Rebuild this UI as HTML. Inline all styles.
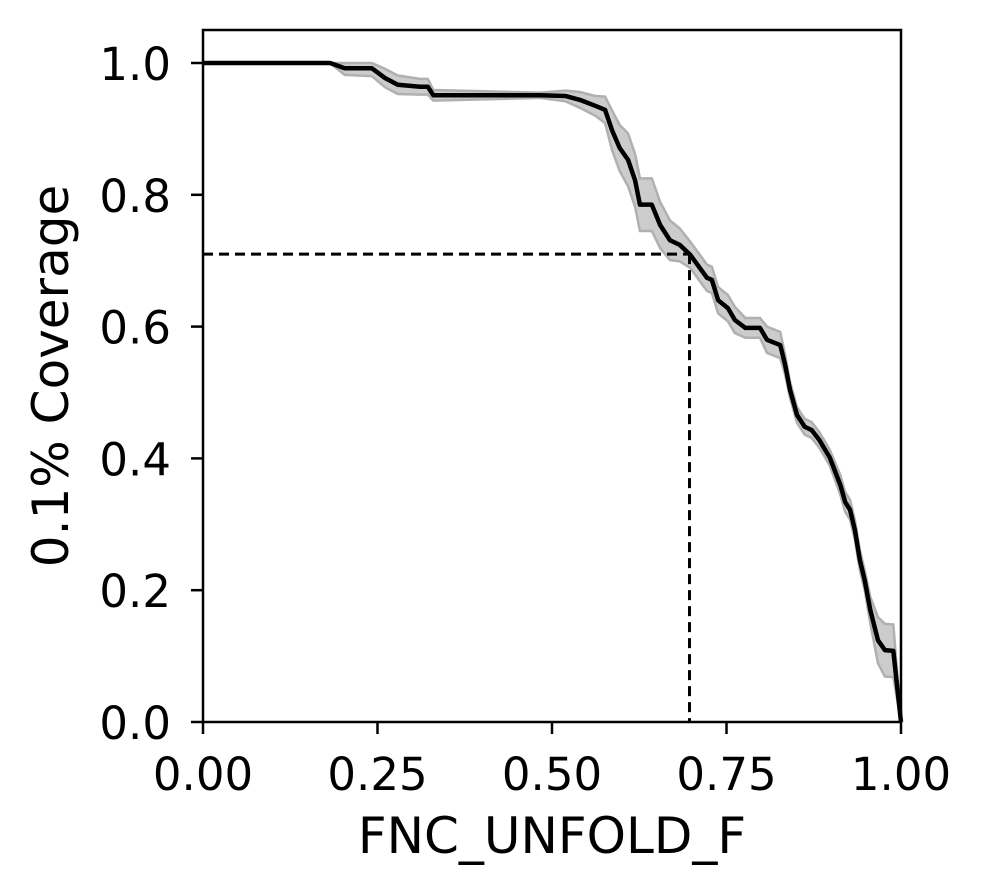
<!DOCTYPE html>
<html><head><meta charset="utf-8"><style>
html,body{margin:0;padding:0;background:#fff;}
svg{display:block;font-family:"DejaVu Sans","Liberation Sans",sans-serif;}
</style></head><body>
<svg id="chart" width="986" height="895"></svg>
<script>
const xs=[0,0.182,0.203,0.242,0.261,0.279,0.311,0.322,0.330,0.483,0.519,0.540,0.562,0.576,0.586,0.597,0.609,0.619,0.626,0.643,0.655,0.669,0.683,0.698,0.709,0.722,0.729,0.738,0.752,0.762,0.777,0.798,0.808,0.827,0.834,0.841,0.851,0.862,0.872,0.883,0.898,0.913,0.920,0.927,0.934,0.941,0.948,0.956,0.967,0.977,0.989,1.0];
const ys=[1.0,1.0,0.992,0.992,0.977,0.967,0.964,0.964,0.951,0.951,0.950,0.944,0.935,0.929,0.898,0.871,0.853,0.822,0.785,0.785,0.754,0.731,0.724,0.709,0.693,0.674,0.671,0.640,0.628,0.610,0.598,0.598,0.580,0.572,0.542,0.504,0.466,0.448,0.443,0.428,0.401,0.360,0.334,0.322,0.291,0.246,0.215,0.170,0.124,0.109,0.108,0.0];
const halfw=[0,0,0.01,0.012,0.014,0.014,0.012,0.012,0.008,0.004,0.008,0.012,0.015,0.02,0.03,0.035,0.04,0.04,0.04,0.04,0.035,0.03,0.025,0.02,0.02,0.02,0.02,0.02,0.02,0.02,0.015,0.015,0.02,0.02,0.015,0.012,0.012,0.012,0.012,0.012,0.012,0.015,0.015,0.015,0.015,0.015,0.015,0.02,0.035,0.04,0.04,0];
const xTicks=[0,0.25,0.5,0.75,1.0];
const xTickLabels=["0.00","0.25","0.50","0.75","1.00"];
const yTicks=[0,0.2,0.4,0.6,0.8,1.0];
const yTickLabels=["0.0","0.2","0.4","0.6","0.8","1.0"];
const threshX=[0.697];
const threshY=[0.71];

const L=203,R=901,T=30,B=722,Y1=63;
const sx=v=>L+v*(R-L);
const sy=v=>B-v*(B-Y1);
const svg=document.getElementById('chart');
const NS='http://www.w3.org/2000/svg';
function mk(tag,attrs){const e=document.createElementNS(NS,tag);for(const k in attrs)e.setAttribute(k,attrs[k]);svg.appendChild(e);return e;}

let up=xs.map((x,i)=>sx(x)+','+sy(Math.min(1,ys[i]+halfw[i])));
let lo=xs.map((x,i)=>sx(x)+','+sy(Math.max(0,ys[i]-halfw[i]))).reverse();
const band=mk('polygon',{points:up.concat(lo).join(' '),fill:'#cccccc',stroke:'#b0b0b0','stroke-width':2.5});



const hl=mk('line',{x1:sx(0),y1:sy(threshY[0]),x2:sx(threshX[0]),y2:sy(threshY[0]),stroke:'#000','stroke-width':3,'stroke-dasharray':'10,6'});


const vl=mk('line',{x1:sx(threshX[0]),y1:sy(threshY[0]),x2:sx(threshX[0]),y2:B,stroke:'#000','stroke-width':3,'stroke-dasharray':'10,6'});



const line=mk('polyline',{points:xs.map((x,i)=>sx(x)+','+sy(ys[i])).join(' '),fill:'none',stroke:'#000','stroke-width':4.5,'stroke-linejoin':'round'});



const frame=mk('rect',{x:L,y:T,width:R-L,height:B-T,fill:'none',stroke:'#000','stroke-width':2.5});



xTicks.forEach((v,i)=>{
  const t=mk('line',{x1:sx(v),y1:B,x2:sx(v),y2:B+12,stroke:'#000','stroke-width':2.5});
  
  
  const l=mk('text',{x:sx(v),y:790,'font-size':45,'text-anchor':'middle',fill:'#000'});
  l.textContent=xTickLabels[i];
  
  
});
yTicks.forEach((v,i)=>{
  const t=mk('line',{x1:L-12,y1:sy(v),x2:L,y2:sy(v),stroke:'#000','stroke-width':2.5});
  
  
  const l=mk('text',{x:171,y:sy(v)+17,'font-size':45,'text-anchor':'end',fill:'#000'});
  l.textContent=yTickLabels[i];
  
  
});
const xt=mk('text',{x:(L+R)/2,y:853,'font-size':50,'text-anchor':'middle',fill:'#000'});
xt.textContent='FNC_UNFOLD_F';


const yt=mk('text',{x:0,y:0,'font-size':50,'text-anchor':'middle',fill:'#000',transform:'translate(68,376) rotate(-90)'});
yt.textContent='0.1% Coverage';


</script>
</body></html>
